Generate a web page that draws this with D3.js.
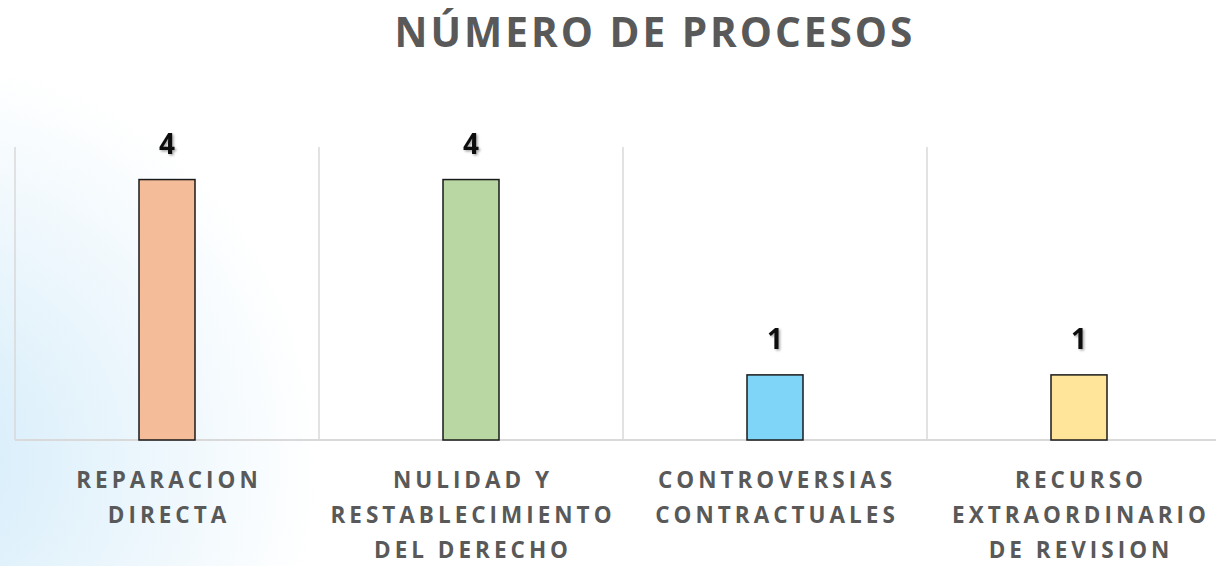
<!DOCTYPE html>
<html>
<head>
    <meta charset="utf-8">
    <title>Número de procesos</title>
    <script src="https://d3js.org/d3.v7.min.js"></script>
    <style>
        body { margin: 0; font-family: "Open Sans", Arial, sans-serif; background: #fff; }
    </style>
</head>
<body>
<div id="chart"></div>
<script>
    const categories = ["REPARACION DIRECTA", "NULIDAD Y RESTABLECIMIENTO DEL DERECHO", "CONTROVERSIAS CONTRACTUALES", "RECURSO EXTRAORDINARIO DE REVISION"];
    const tickLabels = [
        ["REPARACION", "DIRECTA"],
        ["NULIDAD Y", "RESTABLECIMIENTO", "DEL DERECHO"],
        ["CONTROVERSIAS", "CONTRACTUALES"],
        ["RECURSO", "EXTRAORDINARIO", "DE REVISION"]
    ];
    const values = [4, 4, 1, 1];
    const colors = ["#F4BC98", "#B9D7A3", "#7FD5F7", "#FEE599"];
    const yMax = 4.5;

    const width = 1216, height = 566;
    const margin = { top: 147, right: -15, bottom: 126, left: 15 };
    const innerW = width - margin.left - margin.right;
    const innerH = height - margin.top - margin.bottom;

    const svg = d3.select("#chart").append("svg")
        .attr("width", width)
        .attr("height", height);

    const defs = svg.append("defs");
    const grad = defs.append("radialGradient")
        .attr("id", "bg")
        .attr("gradientUnits", "userSpaceOnUse")
        .attr("cx", -80).attr("cy", 460).attr("r", 400);
    grad.append("stop").attr("offset", "0%").attr("stop-color", "#d2ebfa");
    grad.append("stop").attr("offset", "50%").attr("stop-color", "#e9f5fc");
    grad.append("stop").attr("offset", "100%").attr("stop-color", "#ffffff");

    const shadow = defs.append("filter").attr("id", "shadow")
        .attr("x", "-50%").attr("y", "-50%").attr("width", "200%").attr("height", "200%");
    shadow.append("feDropShadow")
        .attr("dx", 1.5).attr("dy", 1.5).attr("stdDeviation", 1)
        .attr("flood-color", "#000").attr("flood-opacity", 0.35);

    svg.append("rect").attr("width", width).attr("height", height).attr("fill", "#fff");
    svg.append("rect").attr("width", width).attr("height", height).attr("fill", "url(#bg)");

    svg.append("text")
        .attr("x", 655)
        .attr("y", 47)
        .attr("text-anchor", "middle")
        .style("font-size", "40.5px")
        .style("font-weight", "bold")
        .style("letter-spacing", "3px")
        .attr("fill", "#595959")
        .text("NÚMERO DE PROCESOS");

    const g = svg.append("g")
        .attr("transform", "translate(" + margin.left + "," + margin.top + ")");

    const x = d3.scaleBand()
        .domain(categories)
        .range([0, innerW])
        .paddingInner(0)
        .paddingOuter(0);
    const y = d3.scaleLinear()
        .domain([0, yMax])
        .range([innerH, 0]);

    // category separators
    const seps = categories.map(c => x(c)).concat([innerW]);
    g.selectAll(".sep")
        .data(seps)
        .enter().append("line")
        .attr("x1", d => d).attr("x2", d => d)
        .attr("y1", 0).attr("y2", innerH)
        .attr("stroke", "#d9d9d9")
        .attr("stroke-width", 1.5);

    g.append("line")
        .attr("x1", 0).attr("x2", innerW)
        .attr("y1", innerH).attr("y2", innerH)
        .attr("stroke", "#d9d9d9")
        .attr("stroke-width", 2);

    const barW = 56;
    g.selectAll(".bar")
        .data(values)
        .enter().append("rect")
        .attr("class", "bar")
        .attr("x", (d, i) => x(categories[i]) + x.bandwidth() / 2 - barW / 2)
        .attr("width", barW)
        .attr("y", d => y(d))
        .attr("height", d => innerH - y(d))
        .attr("fill", (d, i) => colors[i])
        .attr("stroke", "#1a1a1a")
        .attr("stroke-width", 1.5);

    g.selectAll(".val")
        .data(values)
        .enter().append("text")
        .attr("x", (d, i) => x(categories[i]) + x.bandwidth() / 2)
        .attr("y", d => y(d) - 26)
        .attr("text-anchor", "middle")
        .attr("filter", "url(#shadow)")
        .style("font-size", "28px")
        .style("font-weight", "bold")
        .attr("fill", "#111")
        .text(d => d);

    const labels = g.selectAll(".lab")
        .data(tickLabels)
        .enter().append("text")
        .attr("text-anchor", "middle")
        .attr("transform", (d, i) => "translate(" + (x(categories[i]) + x.bandwidth() / 2 + 2) + "," + (innerH + 48) + ")")
        .style("font-size", "22.5px")
        .style("font-weight", "bold")
        .style("letter-spacing", "4px")
        .attr("fill", "#595959");

    labels.selectAll("tspan")
        .data(d => d)
        .enter().append("tspan")
        .attr("x", 0)
        .attr("dy", (d, i) => i === 0 ? 0 : 35)
        .text(d => d);
</script>
</body>
</html>
